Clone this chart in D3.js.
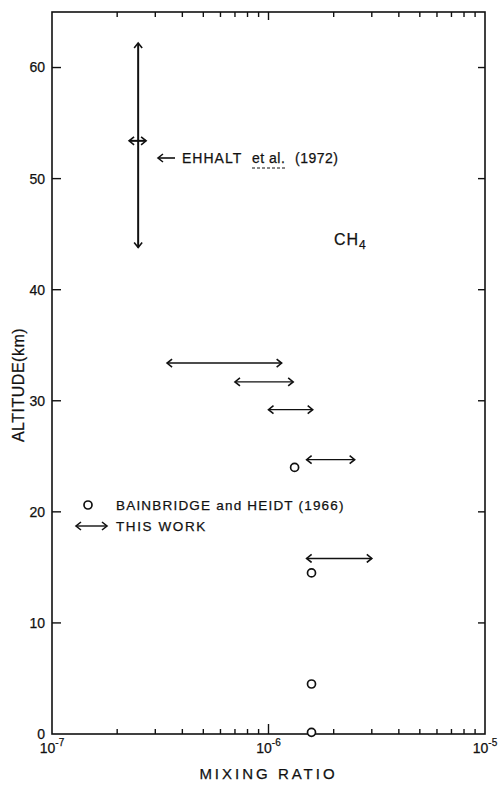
<!DOCTYPE html>
<html>
<head>
<meta charset="utf-8">
<script src="https://cdn.jsdelivr.net/npm/d3@7"></script>
<style>
  body { margin: 0; background: #fff; }
  text { font-family: "Liberation Sans", "DejaVu Sans", sans-serif; fill: #111; stroke: #111; stroke-width: 0.25px; }
</style>
</head>
<body>
<div id="chart"></div>
<script>
// this work: horizontal ranges
var workAlt = [33.4, 31.7, 29.2, 24.7, 15.8];
var workLo  = [3.4e-7, 7.0e-7, 1.0e-6, 1.5e-6, 1.5e-6];
var workHi  = [1.15e-6, 1.3e-6, 1.6e-6, 2.5e-6, 3.0e-6];

// Bainbridge and Heidt (1966) points
var bhAlt   = [24.0, 14.5, 4.5, 0.15];
var bhRatio = [1.32e-6, 1.58e-6, 1.58e-6, 1.58e-6];

// Ehhalt et al. (1972)
var ehRatio = 2.5e-7, ehAltLo = 43.8, ehAltHi = 62.2;
var ehAlt = 53.4, ehLo = 2.27e-7, ehHi = 2.72e-7;

var yTicks = [0, 10, 20, 30, 40, 50, 60];
var xMajor = [1e-7, 1e-6, 1e-5];
var xExp   = ["-7", "-6", "-5"];

var W = 498, H = 787;
var margin = {top: 12, right: 13, bottom: 53, left: 52};
var w = W - margin.left - margin.right, h = H - margin.top - margin.bottom;

var svg = d3.select("#chart").append("svg").attr("width", W).attr("height", H);

var defs = svg.append("defs");
defs.append("marker").attr("id", "head")
  .attr("viewBox", "-6 -5 8 10").attr("refX", 0).attr("refY", 0)
  .attr("markerWidth", 8).attr("markerHeight", 10).attr("markerUnits", "userSpaceOnUse")
  .attr("orient", "auto-start-reverse")
  .append("path").attr("d", "M-5,-4L0,0L-5,4")
  .attr("fill", "none").attr("stroke", "#111").attr("stroke-width", 1.6);

var g = svg.append("g").attr("transform", "translate(" + margin.left + "," + margin.top + ")");

var x = d3.scaleLog().domain([1e-7, 1e-5]).range([0, w]);
var y = d3.scaleLinear().domain([0, 65]).range([h, 0]);

var minor = [];
[1e-7, 1e-6].forEach(function(d) { for (var k = 2; k <= 9; k++) minor.push(d * k); });

// frame
g.append("rect").attr("width", w).attr("height", h)
  .attr("fill", "none").attr("stroke", "#111").attr("stroke-width", 1.6);

// inward ticks, drawn by hand from the scales
var ticks = g.append("g").attr("stroke", "#111").attr("stroke-width", 1.4);
ticks.selectAll(".yl").data(yTicks.slice(1)).enter().append("line")
  .attr("x1", 0).attr("x2", 9)
  .attr("y1", function(d) { return y(d); }).attr("y2", function(d) { return y(d); });
ticks.selectAll(".yr").data(yTicks.slice(1)).enter().append("line")
  .attr("x1", w).attr("x2", w - 7)
  .attr("y1", function(d) { return y(d); }).attr("y2", function(d) { return y(d); });
ticks.selectAll(".xb").data(minor).enter().append("line")
  .attr("x1", function(d) { return x(d); }).attr("x2", function(d) { return x(d); })
  .attr("y1", h).attr("y2", h - 5);
ticks.selectAll(".xt").data(minor).enter().append("line")
  .attr("x1", function(d) { return x(d); }).attr("x2", function(d) { return x(d); })
  .attr("y1", 0).attr("y2", 5);
ticks.append("line").attr("x1", x(1e-6)).attr("x2", x(1e-6)).attr("y1", h).attr("y2", h - 10);
ticks.append("line").attr("x1", x(1e-6)).attr("x2", x(1e-6)).attr("y1", 0).attr("y2", 8);

// y tick labels
g.append("g").selectAll("text").data(yTicks).enter().append("text")
  .attr("x", -7).attr("y", function(d) { return y(d); }).attr("dy", "0.35em")
  .attr("text-anchor", "end").attr("font-size", 14)
  .text(function(d) { return d; });

// x tick labels 10^n
var xl = g.append("g").selectAll("text").data(xMajor).enter().append("text")
  .attr("x", function(d) { return x(d); }).attr("y", h + 19)
  .attr("text-anchor", "middle").attr("font-size", 14);
xl.append("tspan").text("10");
xl.append("tspan").attr("dy", -7).attr("font-size", 10).text(function(d, i) { return xExp[i]; });

// axis titles
svg.append("text").attr("x", margin.left + x(1e-6)).attr("y", 779)
  .attr("text-anchor", "middle").attr("font-size", 15).attr("letter-spacing", 3)
  .text("MIXING RATIO");
svg.append("text").attr("transform", "translate(24,385) rotate(-90)")
  .attr("text-anchor", "middle").attr("font-size", 16).attr("letter-spacing", 0.5)
  .text("ALTITUDE(km)");

// this work arrows
g.append("g").selectAll("line").data(workAlt).enter().append("line")
  .attr("x1", function(d, i) { return x(workLo[i]); })
  .attr("x2", function(d, i) { return x(workHi[i]); })
  .attr("y1", function(d) { return y(d); }).attr("y2", function(d) { return y(d); })
  .attr("stroke", "#111").attr("stroke-width", 1.4)
  .attr("marker-start", "url(#head)").attr("marker-end", "url(#head)");

// Bainbridge circles
g.append("g").selectAll("circle").data(bhAlt).enter().append("circle")
  .attr("cx", function(d, i) { return x(bhRatio[i]); })
  .attr("cy", function(d) { return y(d); })
  .attr("r", 4).attr("fill", "#fff").attr("stroke", "#111").attr("stroke-width", 1.7);

// Ehhalt
g.append("line").attr("x1", x(ehRatio)).attr("x2", x(ehRatio))
  .attr("y1", y(ehAltLo)).attr("y2", y(ehAltHi))
  .attr("stroke", "#111").attr("stroke-width", 2)
  .attr("marker-start", "url(#head)").attr("marker-end", "url(#head)");
g.append("line").attr("x1", x(ehLo)).attr("x2", x(ehHi))
  .attr("y1", y(ehAlt)).attr("y2", y(ehAlt))
  .attr("stroke", "#111").attr("stroke-width", 2)
  .attr("marker-start", "url(#head)").attr("marker-end", "url(#head)");

// Ehhalt label
svg.append("line").attr("x1", 175).attr("x2", 158).attr("y1", 158).attr("y2", 158)
  .attr("stroke", "#111").attr("stroke-width", 1.6).attr("marker-end", "url(#head)");
svg.append("text").attr("x", 182).attr("y", 163).attr("font-size", 14).attr("letter-spacing", 1)
  .text("EHHALT");
var etal = svg.append("text").attr("x", 252).attr("y", 163).attr("font-size", 14).attr("letter-spacing", 0.5)
  .text("et al.");
svg.append("text").attr("x", 295).attr("y", 163).attr("font-size", 14).attr("letter-spacing", 0.5)
  .text("(1972)");
var eb = etal.node().getBBox();
svg.append("line").attr("x1", eb.x).attr("x2", eb.x + eb.width).attr("y1", 168).attr("y2", 168)
  .attr("stroke", "#111").attr("stroke-width", 1).attr("stroke-dasharray", "3,2");

// CH4
var ch = svg.append("text").attr("x", 334).attr("y", 245).attr("font-size", 16).attr("letter-spacing", 1);
ch.append("tspan").text("CH");
ch.append("tspan").attr("dy", 4).attr("font-size", 12).text("4");

// legend
svg.append("circle").attr("cx", 88).attr("cy", 505).attr("r", 4)
  .attr("fill", "#fff").attr("stroke", "#111").attr("stroke-width", 1.7);
svg.append("text").attr("x", 116).attr("y", 510).attr("font-size", 13.5).attr("letter-spacing", 1.2)
  .text("BAINBRIDGE and HEIDT (1966)");
svg.append("line").attr("x1", 76).attr("x2", 107).attr("y1", 526).attr("y2", 526)
  .attr("stroke", "#111").attr("stroke-width", 1.4)
  .attr("marker-start", "url(#head)").attr("marker-end", "url(#head)");
svg.append("text").attr("x", 116).attr("y", 531).attr("font-size", 13.5).attr("letter-spacing", 1.6)
  .text("THIS WORK");
</script>
</body>
</html>
